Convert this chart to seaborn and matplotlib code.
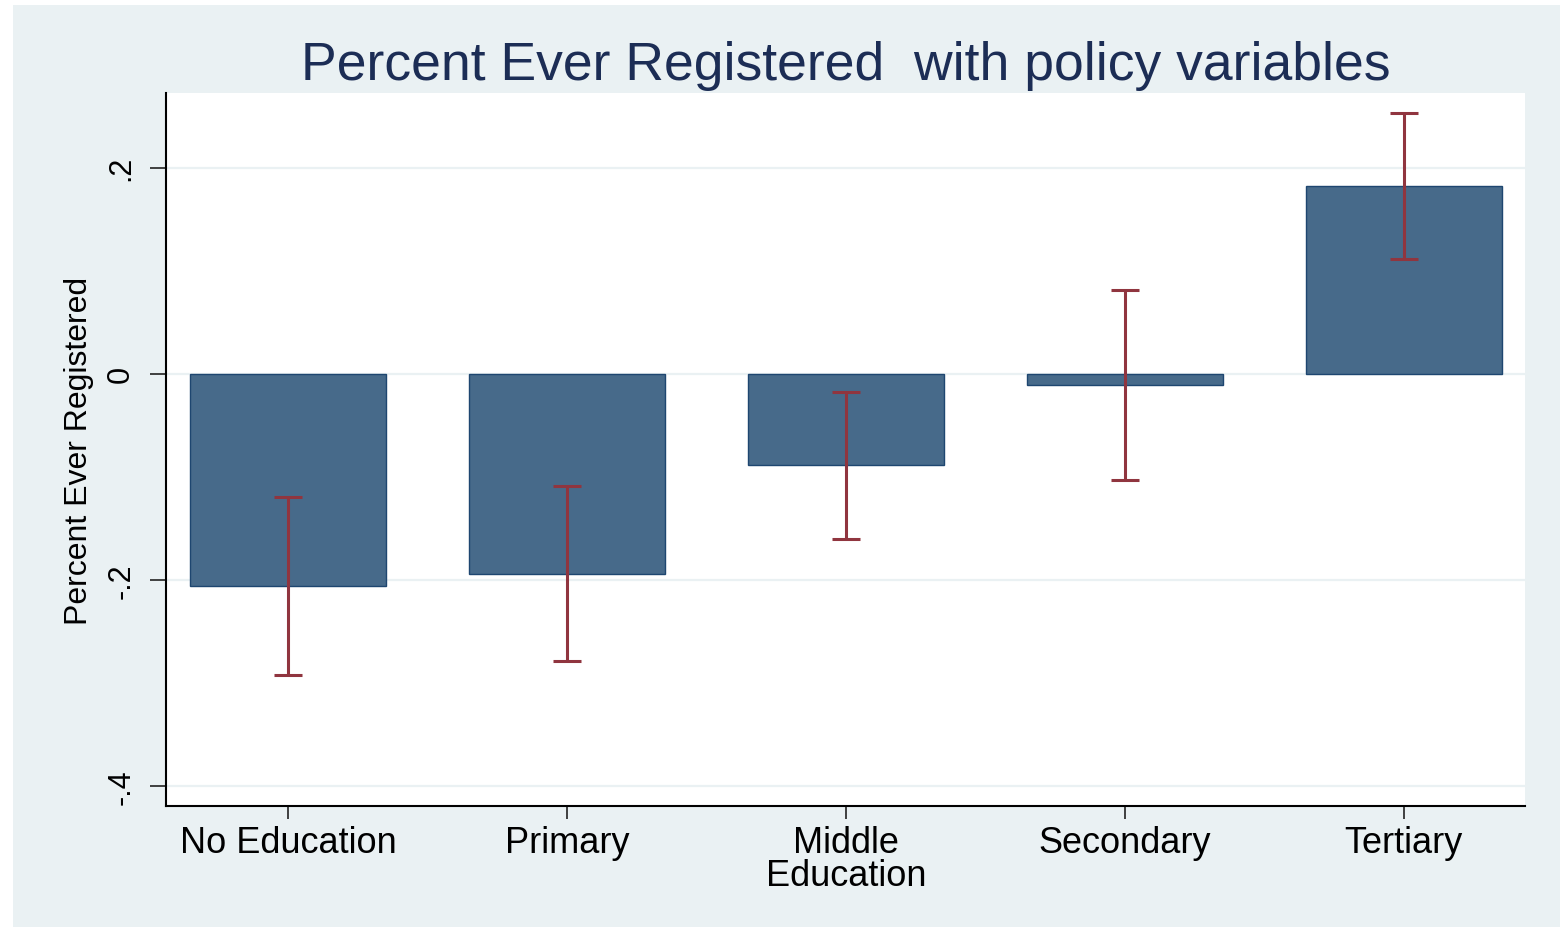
import matplotlib
matplotlib.use("Agg")
import matplotlib.pyplot as plt
from matplotlib.patches import Rectangle
import numpy as np
import pandas as pd
import seaborn as sns

# Education levels and estimated effects with 95% confidence bounds
categories = ["No Education", "Primary", "Middle\nEducation", "Secondary", "Tertiary"]
estimates = [-0.206, -0.194, -0.089, -0.011, 0.182]
ci_lower = [-0.292, -0.279, -0.160, -0.103, 0.111]
ci_upper = [-0.120, -0.109, -0.018, 0.081, 0.253]
yticks = [-0.4, -0.2, 0.0, 0.2]
ytick_labels = ["-.4", "-.2", "0", ".2"]

title = "Percent Ever Registered  with policy variables"
ylabel = "Percent Ever Registered"

panel_color = "#EAF1F3"
bar_color = "#476A8A"
bar_edge = "#1E4670"
err_color = "#90353F"
title_color = "#1C2D55"

sns.set_theme(style="white")
plt.rcParams["font.family"] = ["Liberation Sans", "DejaVu Sans"]

df = pd.DataFrame({"level": categories, "estimate": estimates})

fig = plt.figure(figsize=(15.6, 9.28), dpi=100, facecolor="white")
fig.patches.append(Rectangle((13 / 1560, 0), 1 - 13 / 1560, (928 - 6) / 928,
                             transform=fig.transFigure, facecolor=panel_color,
                             edgecolor="none", zorder=-10))

ax = fig.add_axes([166 / 1560, (928 - 807) / 928, (1525 - 166) / 1560, (807 - 94) / 928])
ax.set_facecolor("white")

# reference grid lines at the labelled ticks
for yv in yticks:
    ax.axhline(yv, color=panel_color, lw=1.6, zorder=0)

sns.barplot(data=df, x="level", y="estimate", order=categories, color=bar_color,
            saturation=1, width=0.7, errorbar=None, edgecolor=bar_edge,
            linewidth=1.0, ax=ax, zorder=2)

est = np.array(estimates)
lo = np.array(ci_lower)
hi = np.array(ci_upper)
ax.errorbar(np.arange(len(categories)), est, yerr=[est - lo, hi - est],
            fmt="none", ecolor=err_color, elinewidth=2.2, capsize=10,
            capthick=2.2, zorder=3)

ax.set_xlim(-0.437, 4.434)
ax.set_ylim(-0.4196, 0.2726)
ax.set_yticks(yticks)
ax.set_yticklabels(ytick_labels, rotation=90, va="center", fontsize=22)
ax.set_xticks(range(len(categories)))
ax.set_xticklabels(categories, fontsize=26, linespacing=0.95)

ax.tick_params(axis="y", direction="out", length=11.5, width=1.2, color="#222222",
               pad=10, left=True, labelcolor="black")
ax.tick_params(axis="x", direction="out", length=9.5, width=1.2, color="#222222",
               pad=4, bottom=True, labelcolor="black")

for side in ["top", "right"]:
    ax.spines[side].set_visible(False)
for side in ["left", "bottom"]:
    ax.spines[side].set_color("black")
    ax.spines[side].set_linewidth(1.5)

ax.set_xlabel("")
ax.set_ylabel(ylabel, fontsize=23, color="black", labelpad=9)

fig.text((166 + 1525) / 2 / 1560, (928 - 80) / 928, title, ha="center",
         va="baseline", fontsize=38.5, color=title_color)

fig.savefig("out.png", dpi=100, facecolor="white")
